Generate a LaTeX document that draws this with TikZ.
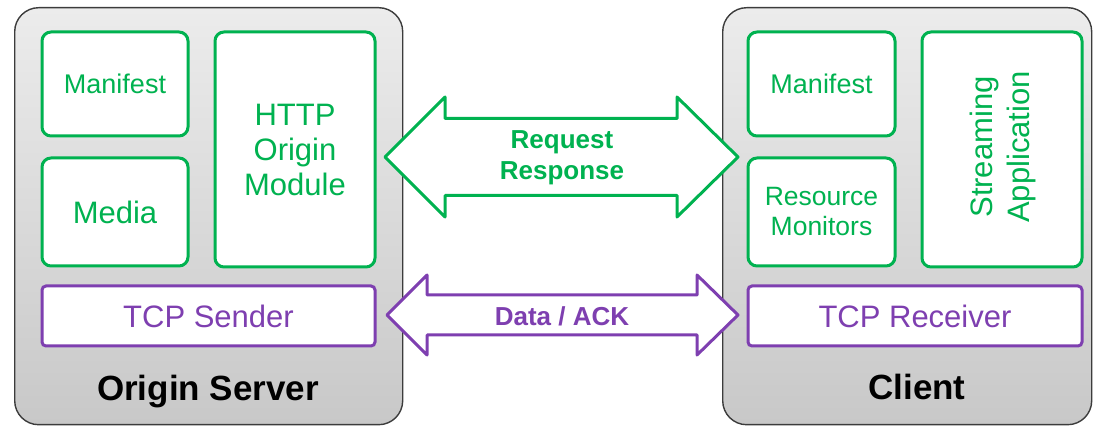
\documentclass[tikz,border=0pt]{standalone}
\usepackage{fontspec}
\setmainfont{Liberation Sans}
\definecolor{grn}{RGB}{0,178,80}
\definecolor{prp}{RGB}{126,63,176}
\definecolor{hostedge}{RGB}{60,60,60}
\definecolor{hosttop}{RGB}{236,236,236}
\definecolor{hostbot}{RGB}{200,200,200}

\begin{document}
\begin{tikzpicture}[x=1pt,y=-1pt,
  host/.style={draw=hostedge, line width=1.4pt, rounded corners=24pt,
    top color=hosttop, bottom color=hostbot, anchor=north west, inner sep=0pt},
  modbox/.style={draw=grn, line width=3pt, rounded corners=9pt, fill=white,
    text=grn, align=center, inner sep=0pt},
  tcpbox/.style={draw=prp, line width=3pt, rounded corners=4pt, fill=white,
    text=prp, align=center, inner sep=0pt},
  hostlabel/.style={font=\fontsize{35}{38}\selectfont\bfseries, text=black, anchor=base},
  blockarrow/.style={line width=3pt, line join=round, fill=white},
  arrowtext/.style={font=\fontsize{26}{31}\selectfont\bfseries, align=center}
]
\useasboundingbox (0,0) rectangle (1093,427);

% hosts
\node[host, minimum width=388pt, minimum height=417pt] (srv) at (14,7) {};
\node[host, minimum width=369pt, minimum height=417pt] (cli) at (722,7) {};

% origin server modules
\node[modbox, minimum width=146pt, minimum height=104pt,
  font=\fontsize{27}{30}\selectfont] (smanifest) at (115,84) {Manifest};
\node[modbox, minimum width=146pt, minimum height=108pt,
  font=\fontsize{31}{35}\selectfont] (smedia) at (115,212) {Media};
\node[modbox, minimum width=160pt, minimum height=235pt,
  font=\fontsize{31}{35}\selectfont] (shttp) at (295,149.5) {HTTP\\Origin\\Module};
\node[tcpbox, minimum width=333pt, minimum height=60pt,
  font=\fontsize{31}{35}\selectfont] (ssend) at (208.5,316) {TCP Sender};
\node[hostlabel] (slabel) at (208,401) {Origin Server};

% client modules
\node[modbox, minimum width=147pt, minimum height=104pt,
  font=\fontsize{27}{30}\selectfont] (cmanifest) at (821.5,84) {Manifest};
\node[modbox, minimum width=147pt, minimum height=108pt,
  font=\fontsize{26.5}{30}\selectfont] (cmon) at (821.5,212) {Resource\\Monitors};
\node[modbox, minimum width=160pt, minimum height=235pt] (capp) at (1002,149.5) {};
\node[text=grn, align=center, rotate=90,
  font=\fontsize{31}{37}\selectfont] (capptext) at (1003,147) {Streaming\\Application};
\node[tcpbox, minimum width=334pt, minimum height=60pt,
  font=\fontsize{31}{35}\selectfont] (crecv) at (915,316) {TCP Receiver};
\node[hostlabel] (clabel) at (917,400) {Client};

% request / response block arrow
\draw[blockarrow, draw=grn]
  (385,157) -- (445,97) -- (445,118.5) -- (677,118.5) -- (677,97) -- (738,157)
  -- (677,217) -- (677,195.5) -- (445,195.5) -- (445,217) -- cycle;
\node[arrowtext, text=grn] (reqresp) at (562,158) {Request\\Response};

% data / ack block arrow
\draw[blockarrow, draw=prp]
  (387,315) -- (427,275) -- (427,295) -- (697,295) -- (697,275) -- (738,315)
  -- (697,355) -- (697,335) -- (427,335) -- (427,355) -- cycle;
\node[arrowtext, text=prp] (dataack) at (562,316) {Data / ACK};
\end{tikzpicture}
\end{document}
